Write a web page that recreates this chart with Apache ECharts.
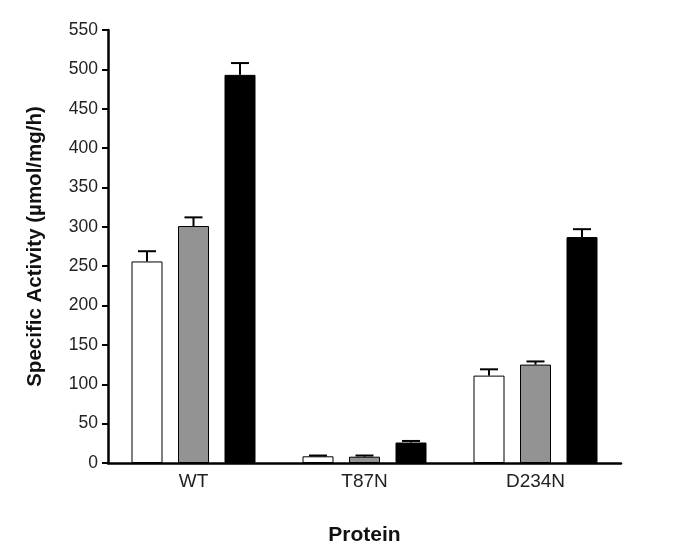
<!DOCTYPE html>
<html>
<head>
<meta charset="utf-8">
<title>Specific Activity</title>
<script src="https://cdn.jsdelivr.net/npm/echarts@6.0.0/dist/echarts.min.js"></script>
<style>
  html, body { margin: 0; padding: 0; background: #fff; }
  #container { width: 673px; height: 556px; }
</style>
</head>
<body>
<div id="container"></div>
<script type="text/javascript">
    // data
    var proteins = ['WT', 'T87N', 'D234N'];
    var whiteVals = [256, 8.5, 111];
    var whiteErr = [13, 1, 8];
    var greyVals = [301, 8, 125];
    var greyErr = [11, 1.5, 4];
    var blackVals = [493, 26, 287];
    var blackErr = [15, 2, 10];
    var yTicks = [0, 550, 50]; // min, max, step

    var barColors = ['#ffffff', '#939393', '#000000'];
    var offsets = [-0.272, 0, 0.272]; // bar centre offsets, fraction of band

    var font = 'Liberation Sans, Arial, sans-serif';

    function errSeries(vals, errs, k) {
        var data = vals.map(function (v, i) { return [i, v, v + errs[i]]; });
        return {
            type: 'custom',
            silent: true,
            z: 5,
            data: data,
            encode: { x: 0, y: [1, 2] },
            renderItem: function (params, api) {
                var band = api.size([1, 0])[0];
                var base = api.coord([api.value(0), api.value(1)]);
                var top = api.coord([api.value(0), api.value(2)]);
                var x = base[0] + offsets[k] * band;
                var half = 9;
                var st = { stroke: '#000', lineWidth: 2 };
                return {
                    type: 'group',
                    children: [
                        { type: 'line', shape: { x1: x, y1: base[1], x2: x, y2: top[1] }, style: st },
                        { type: 'line', shape: { x1: x - half, y1: top[1], x2: x + half, y2: top[1] }, style: st }
                    ]
                };
            }
        };
    }

    function barSeries(vals, k) {
        return {
            type: 'bar',
            data: vals,
            barWidth: 31,
            barGap: '50%',
            itemStyle: { color: barColors[k], borderColor: '#000', borderWidth: 1 }
        };
    }

    var myChart = echarts.init(document.getElementById('container'));
    var option = {
        animation: false,
        grid: { left: 108, right: 52, top: 30, bottom: 93 },
        xAxis: {
            type: 'category',
            data: proteins,
            name: 'Protein',
            nameLocation: 'middle',
            nameGap: 62,
            nameTextStyle: { fontFamily: font, fontSize: 21, fontWeight: 'bold', color: '#111' },
            axisLine: { lineStyle: { color: '#000', width: 2.5 } },
            axisTick: { show: false },
            axisLabel: { fontFamily: font, fontSize: 19, color: '#222', margin: 9 }
        },
        yAxis: {
            type: 'value',
            min: yTicks[0],
            max: yTicks[1],
            interval: yTicks[2],
            name: 'Specific Activity (\u00b5mol/mg/h)',
            nameLocation: 'middle',
            nameGap: 62,
            nameTextStyle: { fontFamily: font, fontSize: 20.5, fontWeight: 'bold', color: '#111' },
            axisLine: { show: true, lineStyle: { color: '#000', width: 2.5 } },
            axisTick: { show: true, length: 6, lineStyle: { color: '#000', width: 2 } },
            axisLabel: { fontFamily: font, fontSize: 17.5, color: '#222', margin: 10 },
            splitLine: { show: false }
        },
        series: [
            barSeries(whiteVals, 0),
            barSeries(greyVals, 1),
            barSeries(blackVals, 2),
            errSeries(whiteVals, whiteErr, 0),
            errSeries(greyVals, greyErr, 1),
            errSeries(blackVals, blackErr, 2)
        ]
    };
    myChart.setOption(option);
</script>
</body>
</html>
